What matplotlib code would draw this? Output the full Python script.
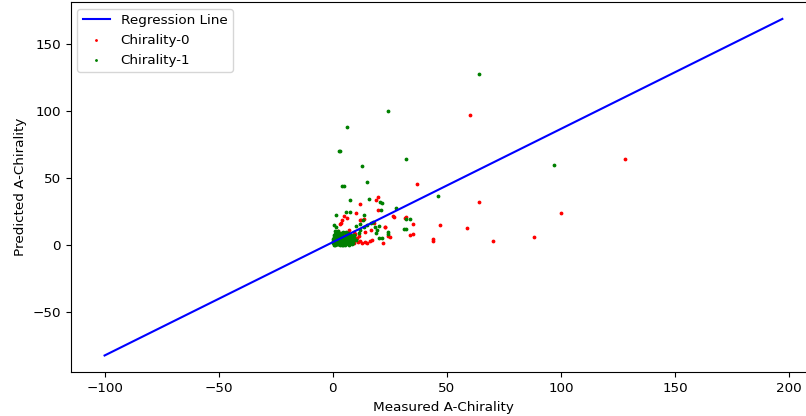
import matplotlib
matplotlib.use("Agg")
import matplotlib.pyplot as plt

plt.rcParams['font.size'] = 9.7

# regression line end points (measured, predicted)
reg_x = [-100, 197]
reg_y = [-82.1, 168.8]

# Chirality-0 points
c0_x = [60, 128, 100, 88, 70, 64, 59, 47, 44, 44, 36.9, 35, 34, 35, 32, 31.5,
        26.7, 26.4, 24.4, 25, 23, 22.8, 22, 20, 19.1, 20, 18, 17, 16.8, 14, 12,
        13.7, 12.3, 11.8, 10, 5.1, 6.1, 4.2, 3.5, 3.2, 12, 12.8, 14.9, 7.5, 9.2,
        10.9, 14.3, 16.5, 1.6, 4.8, 7.0, 9.2, 6.5, 7.8, 9.5, 8.5, 10.5, 11.5,
        9.8, 2.5, 1.0]
c0_y = [97, 64, 24, 6.5, 3, 32, 13, 15, 4.7, 3.5, 46, 16, 7.7, 8.7, 21, 20.5,
        21, 21.6, 6.7, 6.2, 14, 14, 2, 36, 34, 26.6, 17, 3.7, 11.7, 10, 31,
        19.6, 18.7, 19, 24, 21.6, 20.7, 19, 17, 16, 3, 1.5, 1.5, 1.7, 1.7,
        2.5, 2.5, 3.2, 8.7, 9.2, 11.2, 9.9, 3.0, 4.5, 3.0, 6.0, 5.5, 7.0,
        8.5, 10.5, 7.5]

# Chirality-1 points
c1_x = [64, 24, 6.3, 2.9, 3.3, 32, 13, 96.9, 15, 4.1, 4.8, 46, 7.5, 15.8,
        20.9, 21.6, 21.3, 27.9, 34, 32.3, 32.3, 31, 24, 24, 19.4, 19.1, 20.3,
        21.6, 16.9, 17.7, 15, 13.6, 12.1, 11.4, 9.2, 7.4, 13.6, 13.1, 5.6, 7.4,
        1.6, 0.4, 1.2, 10, 12, 18.7, 20.3,
        0.5, 1.0, 1.5, 2.0, 2.5, 3.0, 3.5, 4.0, 4.5, 5.0, 5.5, 6.0, 6.5, 7.0,
        7.5, 8.0, 1.2, 2.2, 3.2, 0.8, 1.8, 2.8, 3.8, 4.8, 5.8, 6.8, 0.3, 1.3,
        2.3, 3.3, 4.3, 5.3, 6.3, 7.3, 8.3, 9.0, 9.5, 10.2, 0.6, 1.6, 2.6, 3.6,
        4.6, 5.6, 0.2, 1.1, 2.1, 3.1, 4.1, 5.1, 6.1, 7.1, 8.1, 0.9, 2.4, 3.9,
        4.9, 5.9, 6.9, 7.9,
        0.4, 1.4, 2.4, 3.4, 4.4, 5.4, 6.4, 7.4, 8.4, 0.7, 1.7, 2.7, 3.7, 4.7,
        5.7, 6.7, 7.7, 8.7, 0.1, 1.9, 2.9, 3.6, 4.2, 5.2, 6.2, 7.2, 8.6, 9.3,
        0.5, 1.5, 2.5, 3.5, 4.5, 5.5, 6.6, 7.6, 1.0, 2.0, 3.0, 4.0, 5.0, 6.0]
c1_y = [128, 100, 88, 70, 70.3, 64, 59, 60, 47, 44, 44, 37, 34, 34.8,
        32, 31.5, 26.6, 28, 20, 20, 12.4, 12, 10, 8.2, 11.7, 9.2, 5.7,
        5.7, 16.6, 17.3, 14.9, 13.6, 11.2, 9.5, 7.4, 5, 22.9, 19, 24.8, 24.8,
        22.3, 15.4, 13.6, 14.4, 16, 13.7, 14.4,
        0.5, 1.2, 2.0, 0.8, 3.1, 1.5, 4.2, 2.3, 0.9, 3.6, 5.1, 1.8, 4.4, 2.7,
        6.2, 3.3, 5.5, 6.8, 7.9, 8.6, 9.8, 4.9, 6.1, 7.3, 8.4, 9.1, 3.5, 4.3,
        2.6, 0.4, 5.7, 1.1, 6.9, 0.6, 5.4, 2.1, 7.0, 4.0, 6.4, 7.2, 8.1, 9.3,
        10.2, 9.7, 1.8, 0.3, 1.4, 2.9, 3.8, 6.6, 7.8, 8.0, 7.6, 10.5, 11.0, 1.0,
        4.9, 2.5, 5.6, 1.4,
        2.2, 3.0, 1.1, 5.9, 0.2, 2.8, 3.4, 4.9, 1.9, 4.6, 5.3, 0.7, 2.0, 6.3,
        3.9, 0.9, 2.0, 3.8, 5.0, 0.9, 6.0, 1.6, 7.4, 4.0, 8.8, 2.6, 1.0, 4.5,
        7.8, 8.9, 5.0, 6.4, 1.6, 0.3, 3.0, 5.2, 2.8, 4.1, 3.4, 0.5, 2.9, 4.0]

fig = plt.figure(figsize=(8.06, 4.16), dpi=100)
ax = fig.add_axes([0.0877, 0.105, 0.925, 0.890])

ax.plot(reg_x, reg_y, color='blue', label='Regression Line')
ax.scatter(c0_x, c0_y, s=3, color='red', label='Chirality-0')
ax.scatter(c1_x, c1_y, s=3, color='green', label='Chirality-1')

ax.set_xlabel('Measured A-Chirality')
ax.set_ylabel('Predicted A-Chirality')
ax.legend(loc='upper left', markerscale=0.6)

fig.savefig('out.png', dpi=100)
